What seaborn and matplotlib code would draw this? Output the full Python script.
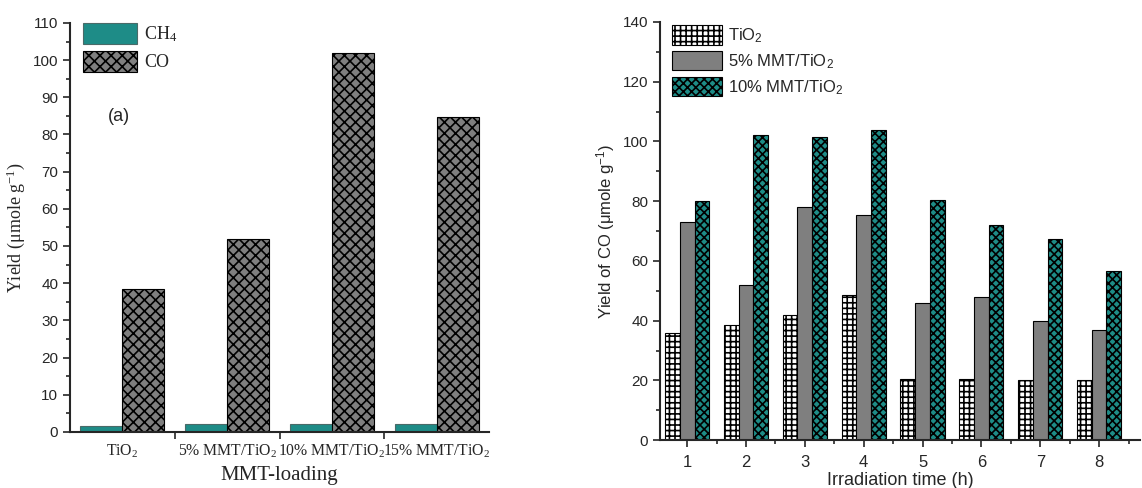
import numpy as np
import pandas as pd
import matplotlib
matplotlib.use('Agg')
import matplotlib.pyplot as plt
import seaborn as sns

sns.set_style('ticks')
plt.rcParams['font.family'] = ['Liberation Sans', 'DejaVu Sans']
plt.rcParams['mathtext.fontset'] = 'custom'
plt.rcParams['mathtext.rm'] = 'Liberation Sans'
plt.rcParams['mathtext.it'] = 'Liberation Sans:italic'
plt.rcParams['mathtext.default'] = 'regular'
plt.rcParams['hatch.linewidth'] = 1.2

# panel (a) data
loadings = ['TiO$_2$', '5% MMT/TiO$_2$', '10% MMT/TiO$_2$', '15% MMT/TiO$_2$']
ch4_yield = [1.5, 2.0, 2.0, 2.0]
co_yield = [38.3, 52.0, 101.8, 84.8]

# panel (b) data
hours = ['1', '2', '3', '4', '5', '6', '7', '8']
tio2_co = [36.0, 38.5, 42.0, 48.5, 20.5, 20.5, 20.3, 20.0]
mmt5_co = [73.0, 52.0, 78.0, 75.5, 46.0, 48.0, 40.0, 37.0]
mmt10_co = [80.0, 102.0, 101.5, 104.0, 80.5, 72.0, 67.5, 56.5]

teal = '#1e8c87'
grey = '#7f7f7f'

df_a = pd.DataFrame({
    'loading': loadings * 2,
    'gas': ['CH$_4$'] * 4 + ['CO'] * 4,
    'yield': ch4_yield + co_yield,
})
df_b = pd.DataFrame({
    'hour': hours * 3,
    'sample': ['TiO$_2$'] * 8 + ['5% MMT/TiO$_2$'] * 8 + ['10% MMT/TiO$_2$'] * 8,
    'yield': tio2_co + mmt5_co + mmt10_co,
})

fig = plt.figure(figsize=(11.42, 4.88), dpi=100)
ax1 = fig.add_axes([0.0613, 0.115, 0.367, 0.838])
ax2 = fig.add_axes([0.578, 0.098, 0.42, 0.857])

serif = ['Liberation Serif', 'DejaVu Serif']

# ---- panel (a)
sns.barplot(data=df_a, x='loading', y='yield', hue='gas', ax=ax1,
            palette=[teal, grey], width=0.8, saturation=1, legend=False)
for patch in ax1.containers[0]:
    patch.set_edgecolor('#4a6a68')
    patch.set_linewidth(0.8)
for patch in ax1.containers[1]:
    patch.set_hatch('xxx')
    patch.set_edgecolor('black')
    patch.set_linewidth(0.8)

ax1.set_xlim(-0.5, 3.5)
ax1.set_ylim(0, 110)
ax1.set_yticks(np.arange(0, 111, 10))
ax1.set_yticks(np.arange(5, 110, 10), minor=True)
ax1.set_xticks(range(4))
ax1.set_xticklabels(loadings, fontsize=11.3, family=serif, math_fontfamily='stix')
ax1.set_xticks([0.5, 1.5, 2.5], minor=True)
ax1.tick_params(axis='x', which='major', length=0, pad=8)
ax1.tick_params(axis='x', which='minor', length=5, width=1.2)
ax1.tick_params(axis='y', which='major', length=5, width=1.2, labelsize=11)
ax1.tick_params(axis='y', which='minor', length=3, width=1.2)
ax1.set_xlabel('MMT-loading', fontsize=15, family=serif, labelpad=4)
ax1.set_ylabel('Yield (μmole g$^{-1}$)', fontsize=13, family=serif,
               math_fontfamily='stix')
ax1.text(0.09, 0.76, '(a)', transform=ax1.transAxes, fontsize=13)
for s in ['left', 'bottom']:
    ax1.spines[s].set_linewidth(1.5)
sns.despine(ax=ax1)
ax1.legend(handles=list(ax1.containers), labels=['CH$_4$', 'CO'],
           loc='upper left', bbox_to_anchor=(0.0, 1.03), frameon=False,
           handlelength=3.0, handleheight=1.4, handletextpad=0.4,
           labelspacing=0.35, borderaxespad=0.3,
           prop={'family': serif, 'size': 13, 'math_fontfamily': 'stix'})

# ---- panel (b)
sns.barplot(data=df_b, x='hour', y='yield', hue='sample', ax=ax2,
            palette=['white', grey, teal], width=0.75, saturation=1, legend=False)
hatches = ['+++', '', 'xxxx']
for cont, h in zip(ax2.containers, hatches):
    for patch in cont:
        patch.set_hatch(h)
        patch.set_edgecolor('black')
        patch.set_linewidth(0.8)

ax2.set_xlim(-0.46, 7.69)
ax2.set_ylim(0, 140)
ax2.set_yticks(np.arange(0, 141, 20))
ax2.set_yticks(np.arange(10, 140, 20), minor=True)
ax2.set_xticks(np.arange(0.5, 7.6, 1), minor=True)
ax2.tick_params(axis='x', which='major', length=5, width=1.2, labelsize=12, pad=6)
ax2.tick_params(axis='x', which='minor', length=3, width=1.2)
ax2.tick_params(axis='y', which='major', length=5, width=1.2, labelsize=11)
ax2.tick_params(axis='y', which='minor', length=3, width=1.2)
ax2.set_xlabel('Irradiation time (h)', fontsize=13, labelpad=1)
ax2.set_ylabel('Yield of CO (μmole g$^{-1}$)', fontsize=12)
for s in ['left', 'bottom']:
    ax2.spines[s].set_linewidth(1.5)
sns.despine(ax=ax2)
ax2.legend(handles=list(ax2.containers),
           labels=['TiO$_2$', '5% MMT/TiO$_2$', '10% MMT/TiO$_2$'],
           loc='upper left', bbox_to_anchor=(0.0, 1.02), frameon=False,
           handlelength=3.0, handleheight=1.4, handletextpad=0.4,
           labelspacing=0.35, borderaxespad=0.3, fontsize=12)

fig.savefig('out.png', dpi=100)
